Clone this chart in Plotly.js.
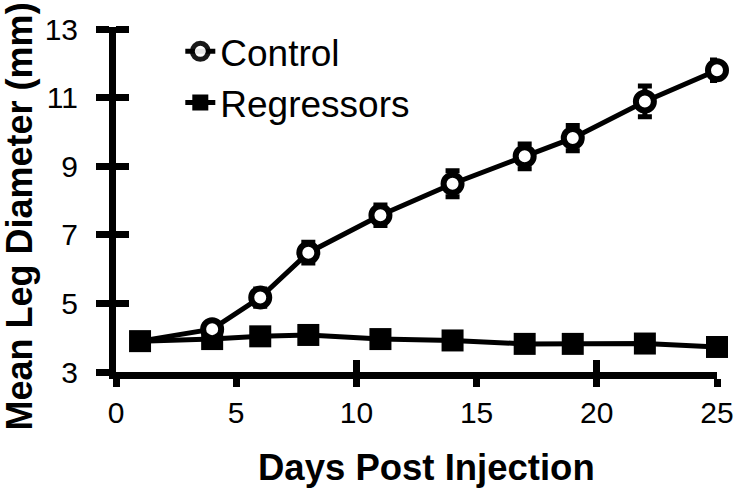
<!DOCTYPE html>
<html>
<head>
<meta charset="utf-8">
<script src="https://cdn.plot.ly/plotly-3.0.1.min.js"></script>
<style>html,body{margin:0;padding:0;background:#fff;}</style>
</head>
<body>
<div id="chart" style="width:735px;height:489px;"></div>
<script>
// Data
const days = [1, 4, 6, 8, 11, 14, 17, 19, 22, 25];
const controlMean = [3.90, 4.25, 5.17, 6.48, 7.57, 8.49, 9.29, 9.82, 10.89, 11.80];
const controlErr = [0.10, 0.15, 0.25, 0.30, 0.30, 0.38, 0.36, 0.37, 0.45, 0.30];
const regressorMean = [3.90, 3.96, 4.04, 4.08, 3.96, 3.92, 3.82, 3.82, 3.83, 3.73];
const regressorErr = [0.15, 0.15, 0.15, 0.15, 0.15, 0.15, 0.15, 0.15, 0.15, 0.15];
const xTicks = [0, 5, 10, 15, 20, 25];
const xCrossTicks = [10, 20];
const yTicks = [3, 5, 7, 9, 11, 13];
const xTitle = 'Days Post Injection';
const yTitle = 'Mean Leg Diameter (mm)';

const FONT = 'Liberation Sans, Arial, Helvetica, sans-serif';
// control day-1 marker is hidden under the regressor square in the reference
const controlMarkerOpacity = days.map((d, i) => i === 0 ? 0 : 1);
const xRange = [0, 25];
const yRange = [3, 13.06];

const traces = [
  {
    name: 'Regressors', x: days, y: regressorMean, type: 'scatter', mode: 'lines+markers',
    line: {color: '#000', width: 5},
    marker: {symbol: 'square', size: 22, color: '#000', line: {width: 0}},
    error_y: {type: 'data', array: regressorErr, visible: true, color: '#000', thickness: 5, width: 7},
    cliponaxis: false
  },
  {
    name: 'Control', x: days, y: controlMean, type: 'scatter', mode: 'lines+markers',
    line: {color: '#000', width: 5},
    marker: {symbol: 'circle', size: 18, color: '#fff', opacity: controlMarkerOpacity, line: {color: '#000', width: 6}},
    error_y: {type: 'data', array: controlErr, visible: true, color: '#000', thickness: 5, width: 7},
    cliponaxis: false
  },
  {x: [], y: [], xaxis: 'x2', yaxis: 'y', showlegend: false, hoverinfo: 'skip', type: 'scatter', mode: 'markers'},
  {x: [], y: [], xaxis: 'x', yaxis: 'y2', showlegend: false, hoverinfo: 'skip', type: 'scatter', mode: 'markers'}
];

const layout = {
  width: 735, height: 489,
  margin: {l: 116, r: 18, t: 27, b: 117, pad: 0},
  paper_bgcolor: '#fff', plot_bgcolor: '#fff',
  showlegend: true,
  legend: {
    x: 0.107, y: 1.018, xanchor: 'left', yanchor: 'top',
    traceorder: 'reversed',
    font: {family: FONT, size: 37, color: '#000'},
    bgcolor: 'rgba(0,0,0,0)', borderwidth: 0
  },
  xaxis: {
    range: xRange, showline: true, linewidth: 7, linecolor: '#000',
    ticks: 'outside', tickvals: xTicks, ticktext: xTicks.map(String), ticklen: 8, tickwidth: 7, tickcolor: '#000',
    tickfont: {family: FONT, size: 30, color: '#000'},
    showgrid: false, zeroline: false
  },
  xaxis2: {
    overlaying: 'x', anchor: 'y', side: 'bottom', range: xRange,
    ticks: 'inside', tickvals: xCrossTicks, ticklen: 12, tickwidth: 7, tickcolor: '#000',
    showticklabels: false, showline: false, showgrid: false, zeroline: false
  },
  yaxis: {
    range: yRange, showline: true, linewidth: 7, linecolor: '#000',
    ticks: 'outside', tickvals: yTicks, ticktext: yTicks.map(String), ticklen: 13, tickwidth: 7, tickcolor: '#000',
    tickfont: {family: FONT, size: 30, color: '#000'}, ticklabelstandoff: 12,
    showgrid: false, zeroline: false
  },
  yaxis2: {
    overlaying: 'y', anchor: 'x', side: 'left', range: yRange,
    ticks: 'inside', tickvals: yTicks, ticklen: 13, tickwidth: 7, tickcolor: '#000',
    showticklabels: false, showline: false, showgrid: false, zeroline: false
  },
  annotations: [
    {
      text: '<b>' + xTitle + '</b>', xref: 'paper', yref: 'paper', x: 0.516, y: -0.277,
      xanchor: 'center', yanchor: 'middle', showarrow: false,
      font: {family: FONT, size: 36.5, color: '#000'}
    },
    {
      text: '<b>' + yTitle + '</b>', xref: 'paper', yref: 'paper', x: -0.1607, y: 0.452,
      xanchor: 'center', yanchor: 'middle', showarrow: false, textangle: -90,
      font: {family: FONT, size: 36, color: '#000'}
    }
  ]
};

Plotly.newPlot('chart', traces, layout, {displayModeBar: false, staticPlot: true});
</script>
</body>
</html>
